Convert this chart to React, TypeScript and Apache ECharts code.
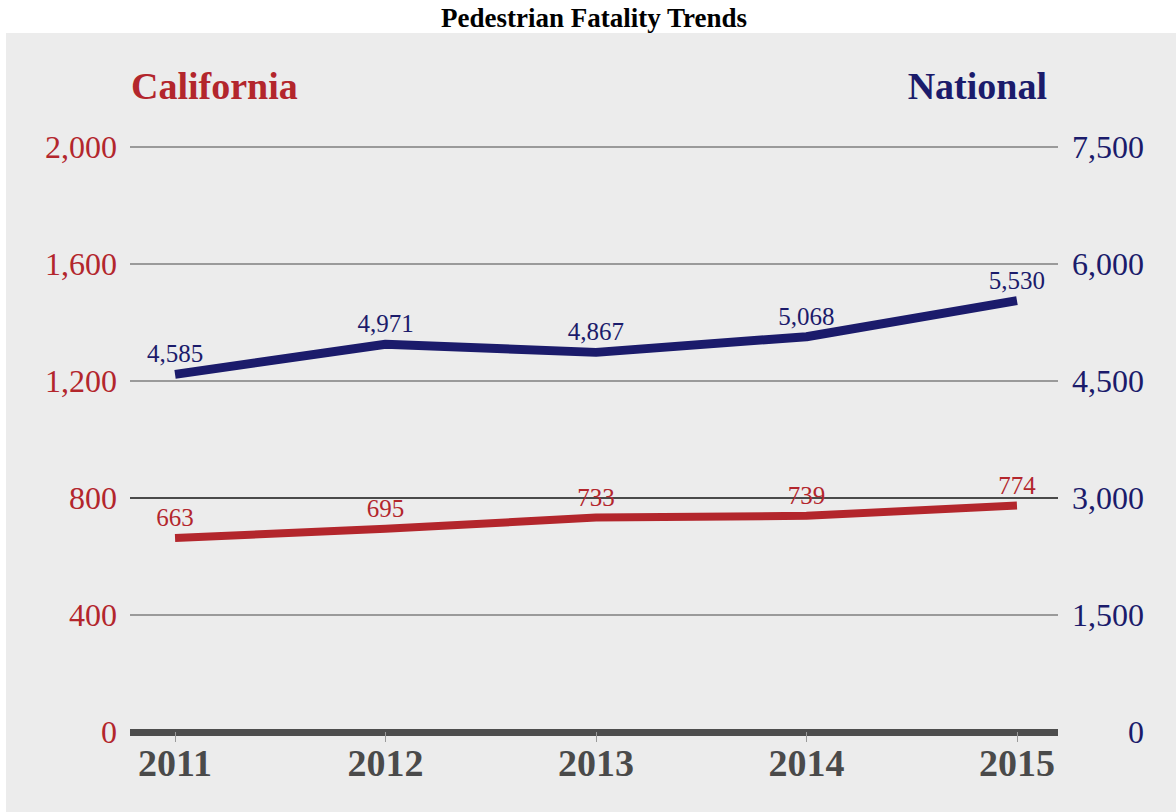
import React, { useEffect, useRef } from "react";
import * as echarts from "echarts";

const years = [2011, 2012, 2013, 2014, 2015];
const california = [663, 695, 733, 739, 774];
const national = [4585, 4971, 4867, 5068, 5530];
const leftMax = 2000;
const leftInterval = 400;
const rightMax = 7500;
const rightInterval = 1500;

const RED = "#b3262c";
const NAVY = "#1b1b6b";
const SERIF = "'Liberation Serif', 'Times New Roman', Times, serif";

const fmt = (v: number) => v.toLocaleString("en-US");

export default function App() {
  const ref = useRef<HTMLDivElement>(null);
  useEffect(() => {
    if (!ref.current) return;
    const chart = echarts.init(ref.current, null, { renderer: "svg" });
    chart.setOption({
      animation: false,
      backgroundColor: "#ffffff",
      textStyle: { fontFamily: SERIF },
      graphic: [
        {
          type: "rect",
          z: -10,
          silent: true,
          shape: { x: 6, y: 33, width: 1170, height: 779 },
          style: { fill: "#ececec" },
        },
        {
          type: "text",
          x: 594,
          y: 18,
          style: {
            text: "Pedestrian Fatality Trends",
            font: `bold 27px ${SERIF}`,
            fill: "#000",
            textAlign: "center",
            textVerticalAlign: "middle",
          },
        },
        {
          type: "text",
          x: 131,
          y: 86,
          style: {
            text: "California",
            font: `bold 38px ${SERIF}`,
            fill: RED,
            textAlign: "left",
            textVerticalAlign: "middle",
          },
        },
        {
          type: "text",
          x: 1047,
          y: 86,
          style: {
            text: "National",
            font: `bold 38px ${SERIF}`,
            fill: NAVY,
            textAlign: "right",
            textVerticalAlign: "middle",
          },
        },
      ],
      grid: { left: 130, right: 118, top: 147, bottom: 80 },
      xAxis: {
        type: "value",
        min: 2010.786,
        max: 2015.195,
        splitLine: { show: false },
        axisLine: {
          show: true,
          onZero: false,
          lineStyle: { color: "#4d4d4d", width: 7, cap: "butt" },
        },
        axisTick: {
          show: true,
          customValues: years,
          length: 10,
          lineStyle: { color: "#9a9a9a", width: 1 },
        },
        axisLabel: {
          customValues: years,
          formatter: (v: number) => String(v),
          fontFamily: SERIF,
          fontWeight: "bold",
          fontSize: 38,
          color: "#4a4a4a",
          margin: 12,
        },
      },
      yAxis: [
        {
          type: "value",
          min: 0,
          max: leftMax,
          interval: leftInterval,
          position: "left",
          axisLine: { show: false },
          axisTick: { show: false },
          axisLabel: {
            formatter: (v: number) => fmt(v),
            fontFamily: SERIF,
            fontSize: 32,
            color: RED,
            margin: 13,
          },
          splitLine: {
            show: true,
            lineStyle: {
              color: ["#9a9a9a", "#9a9a9a", "#4a4a4a", "#9a9a9a", "#9a9a9a", "#9a9a9a"],
              width: 2,
            },
          },
        },
        {
          type: "value",
          min: 0,
          max: rightMax,
          interval: rightInterval,
          position: "right",
          axisLine: { show: false },
          axisTick: { show: false },
          splitLine: { show: false },
          axisLabel: {
            formatter: (v: number) => fmt(v),
            fontFamily: SERIF,
            fontSize: 32,
            color: NAVY,
            align: "right",
            margin: 86,
          },
        },
      ],
      series: [
        {
          name: "National",
          type: "line",
          yAxisIndex: 1,
          data: years.map((y, i) => [y, national[i]]),
          showSymbol: true,
          symbol: "circle",
          symbolSize: 0.1,
          itemStyle: { color: NAVY },
          lineStyle: { color: NAVY, width: 9, cap: "butt", join: "round" },
          label: {
            show: true,
            position: "top",
            distance: 8,
            formatter: (p: any) => fmt(p.value[1]),
            fontFamily: SERIF,
            fontSize: 25,
            color: NAVY,
          },
          z: 3,
        },
        {
          name: "California",
          type: "line",
          yAxisIndex: 0,
          data: years.map((y, i) => [y, california[i]]),
          showSymbol: true,
          symbol: "circle",
          symbolSize: 0.1,
          itemStyle: { color: RED },
          lineStyle: { color: RED, width: 8, cap: "butt", join: "round" },
          label: {
            show: true,
            position: "top",
            distance: 8,
            formatter: (p: any) => fmt(p.value[1]),
            fontFamily: SERIF,
            fontSize: 25,
            color: RED,
          },
          z: 3,
        },
      ],
    });
    return () => chart.dispose();
  }, []);
  return (
    <div
      ref={ref}
      style={{ position: "fixed", left: 0, top: 0, width: 1176, height: 812 }}
    />
  );
}
